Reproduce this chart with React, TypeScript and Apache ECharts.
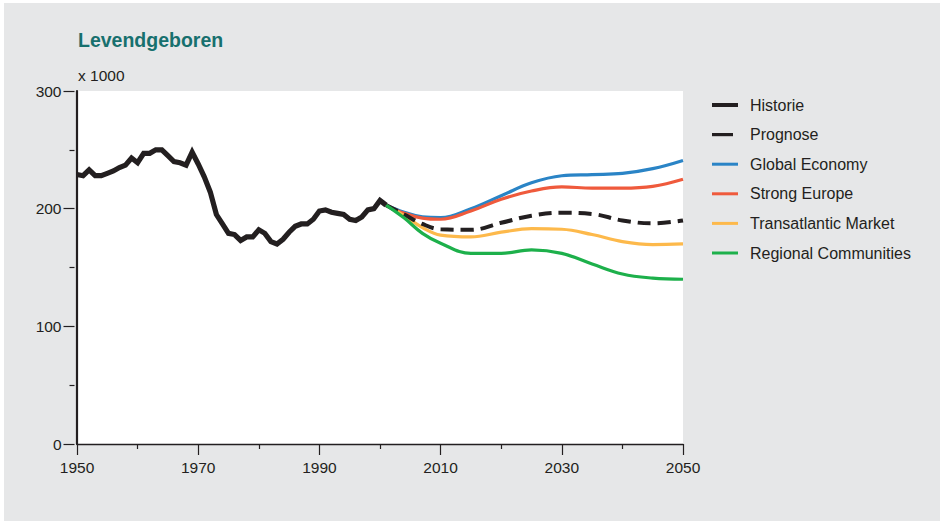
import React, { useEffect, useRef } from "react";
import * as echarts from "echarts";

const TITLE = "Levendgeboren";
const UNIT = "x 1000";

const historyYears = [
  1950, 1951, 1952, 1953, 1954, 1955, 1956, 1957, 1958, 1959,
  1960, 1961, 1962, 1963, 1964, 1965, 1966, 1967, 1968, 1969,
  1970, 1971, 1972, 1973, 1974, 1975, 1976, 1977, 1978, 1979,
  1980, 1981, 1982, 1983, 1984, 1985, 1986, 1987, 1988, 1989,
  1990, 1991, 1992, 1993, 1994, 1995, 1996, 1997, 1998, 1999,
  2000, 2001,
];
const historyValues = [
  229, 228, 233, 228, 228, 230, 232, 235, 237, 243,
  239, 247, 247, 250, 250, 245, 240, 239, 237, 248,
  238, 227, 214, 195, 187, 179, 178, 173, 176, 176,
  182, 179, 172, 170, 174, 180, 185, 187, 187, 191,
  198, 199, 197, 196, 195, 191, 190, 193, 199, 200,
  207, 203,
];

const projYears = [2001, 2004, 2007, 2010, 2015, 2020, 2025, 2030, 2035, 2040, 2045, 2050];
const prognose = [203, 195, 187, 182.5, 182, 188, 194, 196.5, 195.5, 190, 187.5, 190];
const globalEconomy = [203, 197, 193, 192.5, 200, 211, 222, 228, 229, 230, 234, 241];
const strongEurope = [203, 196, 192, 191, 198, 208, 215, 218.5, 217.5, 217.5, 219, 225];
const transatlantic = [203, 194, 184, 177.5, 176, 180, 183, 182.5, 178, 172, 169.5, 170];
const regional = [203, 192, 179, 170.6, 162, 162, 165, 162, 153, 144.5, 141, 140];

const names = [
  "Historie",
  "Prognose",
  "Global Economy",
  "Strong Europe",
  "Transatlantic Market",
  "Regional Communities",
];

const INK = "#231f20";
const COLORS = {
  history: INK,
  prognose: INK,
  global: "#2a84c6",
  strong: "#ef5a3c",
  trans: "#fdb94b",
  regional: "#1db04b",
};

function pair(xs: number[], ys: number[]) {
  return xs.map((x, i) => [x, ys[i]]);
}

function pickFont() {
  try {
    const ctx = document.createElement("canvas").getContext("2d");
    if (ctx) {
      ctx.font = "18px monospace";
      const a = ctx.measureText("Regional Communities").width;
      ctx.font = '18px "Liberation Sans Narrow", monospace';
      const b = ctx.measureText("Regional Communities").width;
      if (Math.abs(a - b) > 1) {
        return { family: '"Liberation Sans Narrow"', legend: 18.6, axis: 17.8, unit: 18 };
      }
    }
  } catch (e) {}
  return { family: '"Liberation Sans", Arial, sans-serif', legend: 16, axis: 15.5, unit: 15.5 };
}

export default function App() {
  const ref = useRef<HTMLDivElement>(null);

  useEffect(() => {
    if (!ref.current) return;
    const f = pickFont();
    const chart = echarts.init(ref.current, null, { renderer: "svg" });

    const axisLabelStyle = {
      color: INK,
      fontFamily: f.family,
      fontSize: f.axis,
    };

    const mkLine = (name: string, xs: number[], ys: number[], color: string, width: number, smooth: boolean, dashed?: boolean) => ({
      name,
      type: "line",
      data: pair(xs, ys),
      symbol: "none",
      smooth: smooth ? 0.4 : false,
      xAxisIndex: 0,
      yAxisIndex: 0,
      color,
      lineStyle: {
        color,
        width,
        type: dashed ? [13, 7] : "solid",
        cap: "butt",
        join: "miter",
      },
      itemStyle: { color },
      emphasis: { disabled: true },
    });

    chart.setOption({
      animation: false,
      backgroundColor: "transparent",
      textStyle: { fontFamily: f.family },
      grid: {
        left: 77,
        right: 257,
        top: 91,
        bottom: 77,
        show: true,
        backgroundColor: "#ffffff",
        borderWidth: 0,
        containLabel: false,
        outerBoundsMode: "none",
      },
      xAxis: {
        type: "value",
        min: 1950,
        max: 2050,
        interval: 20,
        axisLine: { show: true, onZero: false, lineStyle: { color: INK, width: 1.4 } },
        axisTick: { show: true, length: 11, lineStyle: { color: INK, width: 1.2 } },
        minorTick: { show: true, splitNumber: 2, length: 5, lineStyle: { color: INK, width: 1.2 } },
        splitLine: { show: false },
        minorSplitLine: { show: false },
        axisLabel: {
          ...axisLabelStyle,
          margin: 15,
          formatter: (v: number) => String(v),
        },
      },
      yAxis: [
        {
          type: "value",
          position: "left",
          offset: 2.5,
          min: 0,
          max: 300,
          interval: 100,
          axisLine: { show: false },
          axisTick: { show: true, length: 11, lineStyle: { color: INK, width: 1.2 } },
          minorTick: { show: true, splitNumber: 2, length: 5, lineStyle: { color: INK, width: 1.2 } },
          splitLine: { show: false },
          minorSplitLine: { show: false },
          axisLabel: { ...axisLabelStyle, margin: 13 },
        },
        {
          type: "value",
          position: "left",
          offset: 0,
          min: 0,
          max: 300,
          interval: 100,
          axisLine: { show: true, onZero: false, lineStyle: { color: INK, width: 2.2 } },
          axisTick: { show: false },
          axisLabel: { show: false },
          splitLine: { show: false },
        },
      ],
      legend: {
        orient: "vertical",
        left: 712,
        top: 95,
        padding: 0,
        itemWidth: 26,
        itemHeight: 4,
        itemGap: 9.6,
        selectedMode: false,
        textStyle: {
          color: INK,
          fontFamily: f.family,
          fontSize: f.legend,
          lineHeight: 20,
          padding: [0, 0, 0, 7],
        },
        data: [
          { name: names[0], icon: "rect", itemStyle: { color: COLORS.history, borderWidth: 0 } },
          { name: names[1], icon: "path://M0 0H21V3.2H0Z M26 1.6L26 1.6", itemStyle: { color: COLORS.prognose, borderWidth: 0 } },
          { name: names[2], icon: "path://M0 0H26V3H0Z", itemStyle: { color: COLORS.global, borderWidth: 0 } },
          { name: names[3], icon: "path://M0 0H26V3H0Z", itemStyle: { color: COLORS.strong, borderWidth: 0 } },
          { name: names[4], icon: "path://M0 0H26V3H0Z", itemStyle: { color: COLORS.trans, borderWidth: 0 } },
          { name: names[5], icon: "path://M0 0H26V3H0Z", itemStyle: { color: COLORS.regional, borderWidth: 0 } },
        ],
      },
      graphic: [
        {
          type: "text",
          left: 78,
          top: 30,
          style: {
            text: TITLE,
            fill: "#17706e",
            font: 'bold 19.5px "Liberation Sans", Arial, sans-serif',
          },
        },
        {
          type: "text",
          left: 78,
          top: 67,
          style: {
            text: UNIT,
            fill: INK,
            font: `${f.unit}px ${f.family}`,
          },
        },
      ],
      series: [
        mkLine(names[2], projYears, globalEconomy, COLORS.global, 3.2, true),
        mkLine(names[3], projYears, strongEurope, COLORS.strong, 3.2, true),
        mkLine(names[4], projYears, transatlantic, COLORS.trans, 3.2, true),
        mkLine(names[1], projYears, prognose, COLORS.prognose, 4, true, true),
        mkLine(names[5], projYears, regional, COLORS.regional, 3.2, true),
        mkLine(names[0], historyYears, historyValues, COLORS.history, 5.2, false),
      ],
    });

    return () => chart.dispose();
  }, []);

  return (
    <div style={{ position: "fixed", left: 0, top: 0, width: 940, height: 521, background: "#ffffff" }}>
      <div style={{ position: "absolute", left: 4, top: 3, right: 0, bottom: 0, background: "#e6e7e8" }} />
      <div ref={ref} style={{ position: "absolute", left: 0, top: 0, width: 940, height: 521 }} />
    </div>
  );
}
